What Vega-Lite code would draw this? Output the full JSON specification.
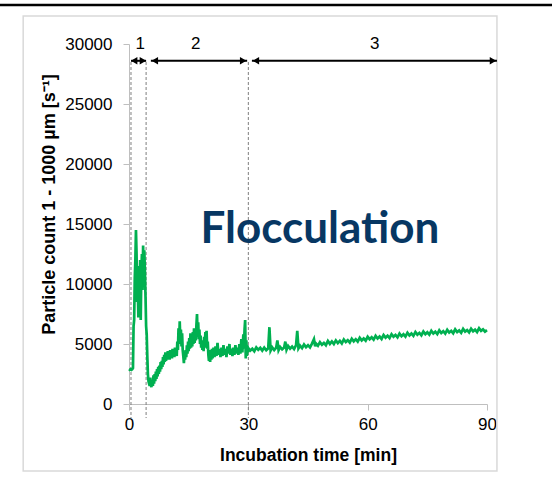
{
  "$schema": "https://vega.github.io/schema/vega-lite/v6.json",
  "width": 358,
  "height": 360,
  "autosize": {"type": "none"},
  "padding": {"left": 129, "top": 44, "right": 65, "bottom": 80},
  "background": "white",
  "config": {"view": {"stroke": null}, "font": "Liberation Sans"},
  "datasets": {
    "series": [
      {"t":0,"v":2900},{"t":0.2,"v":2850},{"t":0.4,"v":2900},{"t":0.6,"v":2850},{"t":0.8,"v":2900},{"t":1.0,"v":3000},
      {"t":1.15,"v":6500},{"t":1.3,"v":7000},{"t":1.45,"v":10500},{"t":1.6,"v":12000},{"t":1.75,"v":14500},{"t":1.9,"v":12500},
      {"t":2.05,"v":8500},{"t":2.2,"v":10000},{"t":2.35,"v":7200},{"t":2.5,"v":11500},{"t":2.65,"v":9000},{"t":2.8,"v":12000},
      {"t":2.95,"v":7000},{"t":3.1,"v":11000},{"t":3.25,"v":12500},{"t":3.4,"v":9500},{"t":3.55,"v":13200},{"t":3.7,"v":10000},
      {"t":3.85,"v":12800},{"t":4.0,"v":11000},{"t":4.15,"v":9000},{"t":4.3,"v":6500},{"t":4.45,"v":5800},{"t":4.6,"v":4000},
      {"t":4.75,"v":2500},{"t":4.9,"v":1900},{"t":5.05,"v":1700},{"t":5.2,"v":1500},{"t":5.35,"v":2200},{"t":5.5,"v":1600},
      {"t":5.65,"v":1400},{"t":5.8,"v":2000},{"t":6.0,"v":1500},{"t":6.15,"v":2400},{"t":6.3,"v":1700},{"t":6.45,"v":2500},
      {"t":6.6,"v":1900},{"t":6.75,"v":2700},{"t":6.9,"v":2100},{"t":7.05,"v":2900},{"t":7.2,"v":2300},{"t":7.35,"v":3100},
      {"t":7.5,"v":2500},{"t":7.65,"v":3200},{"t":7.8,"v":2700},{"t":7.95,"v":3500},{"t":8.1,"v":2900},{"t":8.25,"v":3600},
      {"t":8.4,"v":3100},{"t":8.55,"v":3900},{"t":8.7,"v":3300},{"t":8.85,"v":4100},{"t":9.0,"v":3500},{"t":9.15,"v":4300},
      {"t":9.3,"v":3600},{"t":9.45,"v":4100},{"t":9.6,"v":3700},{"t":9.75,"v":4400},{"t":9.9,"v":3800},{"t":10.05,"v":4300},
      {"t":10.2,"v":3700},{"t":10.35,"v":4500},{"t":10.5,"v":3900},{"t":10.65,"v":4300},{"t":10.8,"v":3800},{"t":10.95,"v":4600},
      {"t":11.1,"v":4000},{"t":11.25,"v":4400},{"t":11.4,"v":3900},{"t":11.55,"v":4700},{"t":11.7,"v":4100},{"t":11.85,"v":4500},
      {"t":12.0,"v":4000},{"t":12.15,"v":5200},{"t":12.3,"v":4500},{"t":12.45,"v":6300},{"t":12.6,"v":5000},{"t":12.75,"v":6900},
      {"t":12.9,"v":5300},{"t":13.05,"v":6200},{"t":13.2,"v":4800},{"t":13.35,"v":5900},{"t":13.5,"v":4500},{"t":13.65,"v":4000},
      {"t":13.8,"v":3400},{"t":13.95,"v":4200},{"t":14.1,"v":3700},{"t":14.25,"v":4500},{"t":14.4,"v":3900},{"t":14.55,"v":4900},
      {"t":14.7,"v":4200},{"t":14.85,"v":5200},{"t":15.0,"v":4400},{"t":15.15,"v":5500},{"t":15.3,"v":4600},{"t":15.45,"v":5900},
      {"t":15.6,"v":4700},{"t":15.75,"v":5400},{"t":15.9,"v":4800},{"t":16.05,"v":6000},{"t":16.2,"v":5000},{"t":16.35,"v":6300},
      {"t":16.5,"v":5100},{"t":16.65,"v":5800},{"t":16.8,"v":5300},{"t":16.95,"v":6600},{"t":17.1,"v":7500},{"t":17.25,"v":5600},
      {"t":17.4,"v":6800},{"t":17.55,"v":5400},{"t":17.7,"v":6200},{"t":17.85,"v":5000},{"t":18.0,"v":5700},{"t":18.15,"v":4700},
      {"t":18.3,"v":5300},{"t":18.45,"v":4500},{"t":18.6,"v":5000},{"t":18.75,"v":4400},{"t":18.9,"v":5600},{"t":19.05,"v":4700},
      {"t":19.2,"v":6000},{"t":19.35,"v":4900},{"t":19.5,"v":6100},{"t":19.65,"v":4600},{"t":19.8,"v":5200},{"t":19.95,"v":4100},
      {"t":20.1,"v":3600},{"t":20.25,"v":4400},{"t":20.4,"v":3500},{"t":20.55,"v":4500},{"t":20.7,"v":3700},{"t":20.85,"v":4600},
      {"t":21.0,"v":3800},{"t":21.25,"v":4700},{"t":21.5,"v":3900},{"t":21.75,"v":4800},{"t":22.0,"v":4000},{"t":22.25,"v":5100},
      {"t":22.5,"v":4100},{"t":22.75,"v":4600},{"t":23.0,"v":3900},{"t":23.25,"v":4700},{"t":23.5,"v":4000},{"t":23.75,"v":4900},
      {"t":24.0,"v":4100},{"t":24.25,"v":4600},{"t":24.5,"v":3900},{"t":24.75,"v":4800},{"t":25.0,"v":4200},{"t":25.25,"v":5000},
      {"t":25.5,"v":4100},{"t":25.75,"v":4600},{"t":26.0,"v":4000},{"t":26.25,"v":4700},{"t":26.5,"v":4100},{"t":26.75,"v":4900},
      {"t":27.0,"v":4200},{"t":27.25,"v":4700},{"t":27.5,"v":4100},{"t":27.75,"v":5000},{"t":28.0,"v":4200},{"t":28.25,"v":5400},
      {"t":28.5,"v":4300},{"t":28.75,"v":5800},{"t":28.9,"v":4600},{"t":29.05,"v":6200},{"t":29.2,"v":7000},{"t":29.35,"v":3800},
      {"t":29.5,"v":5300},{"t":29.65,"v":4000},{"t":29.8,"v":4900},{"t":29.9,"v":4300},
      {"t":30.0,"v":4650},{"t":30.5,"v":4450},{"t":31.0,"v":4600},{"t":31.5,"v":4400},{"t":32.0,"v":4720},{"t":32.5,"v":4520},
      {"t":33.0,"v":4680},{"t":33.5,"v":4450},{"t":34.0,"v":4700},{"t":34.5,"v":4480},{"t":35.0,"v":4640},{"t":35.3,"v":6400},
      {"t":35.6,"v":4450},{"t":36.0,"v":4720},{"t":36.5,"v":4500},{"t":37.0,"v":4700},{"t":37.3,"v":5300},{"t":37.6,"v":4480},
      {"t":38.0,"v":4760},{"t":38.5,"v":4560},{"t":39.0,"v":4700},{"t":39.3,"v":5200},{"t":39.6,"v":4520},{"t":40.0,"v":4830},
      {"t":40.5,"v":4610},{"t":41.0,"v":4780},{"t":41.5,"v":4580},{"t":42.0,"v":4900},{"t":42.3,"v":6100},{"t":42.6,"v":4640},
      {"t":43.0,"v":4860},{"t":43.5,"v":4660},{"t":44.0,"v":4960},{"t":44.5,"v":4740},{"t":45.0,"v":4900},{"t":45.5,"v":4720},
      {"t":46.0,"v":5030},{"t":46.5,"v":5400},{"t":46.8,"v":4800},{"t":47.0,"v":5040},{"t":47.5,"v":4860},{"t":48.0,"v":5150},
      {"t":48.5,"v":4930},{"t":49.0,"v":5090},{"t":49.5,"v":4900},{"t":50.0,"v":5250},{"t":50.5,"v":5010},{"t":51.0,"v":5220},
      {"t":51.5,"v":5000},{"t":52.0,"v":5300},{"t":52.5,"v":5080},{"t":53.0,"v":5260},{"t":53.5,"v":5050},{"t":54.0,"v":5380},
      {"t":54.5,"v":5160},{"t":55.0,"v":5320},{"t":55.5,"v":5120},{"t":56.0,"v":5440},{"t":56.5,"v":5220},{"t":57.0,"v":5400},
      {"t":57.5,"v":5200},{"t":58.0,"v":5520},{"t":58.5,"v":5300},{"t":59.0,"v":5460},{"t":59.5,"v":5280},{"t":60.0,"v":5600},
      {"t":60.5,"v":5400},{"t":61.0,"v":5560},{"t":61.5,"v":5360},{"t":62.0,"v":5680},{"t":62.5,"v":5460},{"t":63.0,"v":5620},
      {"t":63.5,"v":5420},{"t":64.0,"v":5750},{"t":64.5,"v":5530},{"t":65.0,"v":5690},{"t":65.5,"v":5500},{"t":66.0,"v":5820},
      {"t":66.5,"v":5600},{"t":67.0,"v":5760},{"t":67.5,"v":5560},{"t":68.0,"v":5870},{"t":68.5,"v":5650},{"t":69.0,"v":5810},
      {"t":69.5,"v":5620},{"t":70.0,"v":5940},{"t":70.5,"v":5720},{"t":71.0,"v":5880},{"t":71.5,"v":5680},{"t":72.0,"v":6000},
      {"t":72.5,"v":5780},{"t":73.0,"v":5930},{"t":73.5,"v":5730},{"t":74.0,"v":6040},{"t":74.5,"v":5820},{"t":75.0,"v":5980},
      {"t":75.5,"v":5790},{"t":76.0,"v":6100},{"t":76.5,"v":5880},{"t":77.0,"v":6030},{"t":77.5,"v":5830},{"t":78.0,"v":6140},
      {"t":78.5,"v":5920},{"t":79.0,"v":6070},{"t":79.5,"v":5870},{"t":80.0,"v":6180},{"t":80.5,"v":5960},{"t":81.0,"v":6100},
      {"t":81.5,"v":5900},{"t":82.0,"v":6220},{"t":82.5,"v":6000},{"t":83.0,"v":6130},{"t":83.5,"v":5930},{"t":84.0,"v":6260},
      {"t":84.5,"v":6040},{"t":85.0,"v":6160},{"t":85.5,"v":5970},{"t":86.0,"v":6280},{"t":86.5,"v":6060},{"t":87.0,"v":6200},
      {"t":87.5,"v":6000},{"t":88.0,"v":6310},{"t":88.5,"v":6090},{"t":89.0,"v":6220},{"t":89.5,"v":6030},{"t":90.0,"v":6150}
    ],
    "phases": [
      {"x": 0.5, "top": 28500, "bottom": -1170},
      {"x": 4.3, "top": 28500, "bottom": -1170},
      {"x": 30, "top": 28500, "bottom": -1170}
    ],
    "arrows": [
      {"from": 0.5, "to": 4.3, "y": 28600},
      {"from": 5.5, "to": 29.7, "y": 28600},
      {"from": 30.9, "to": 92.5, "y": 28600}
    ],
    "heads": [
      {"x": 1.3, "y": 28600, "side": "left"},
      {"x": 3.5, "y": 28600, "side": "right"},
      {"x": 6.5, "y": 28600, "side": "left"},
      {"x": 28.7, "y": 28600, "side": "right"},
      {"x": 31.9, "y": 28600, "side": "left"},
      {"x": 91.5, "y": 28600, "side": "right"}
    ],
    "labels": [
      {"x": 2.8, "y": 30000, "text": "1"},
      {"x": 16.8, "y": 30000, "text": "2"},
      {"x": 61.8, "y": 30000, "text": "3"}
    ],
    "frame": [{"x1": -26.6, "x2": 92.5, "y1": -5583, "y2": 32333}],
    "topbar": [{"x1": -33, "x2": 107, "y": 33250}],
    "note": [{"x": 48, "y": 13450, "text": "Flocculation"}]
  },
  "layer": [
    {
      "data": {"name": "frame"},
      "mark": {"type": "rect", "fill": null, "stroke": "#d9d9d9", "strokeWidth": 1.5},
      "encoding": {
        "x": {"field": "x1", "type": "quantitative", "scale": {"domain": [0, 90], "nice": false}, "axis": {"title": "Incubation time [min]", "values": [0, 30, 60, 90], "format": "d", "labelFlush": false, "domainColor": "#bfbfbf", "tickColor": "#bfbfbf", "tickSize": 6, "labelFontSize": 17, "labelColor": "#000", "labelPadding": 6, "titleFontSize": 17.5, "titleFontWeight": "bold", "titleColor": "#000", "titlePadding": 14, "grid": false}},
        "x2": {"field": "x2"},
        "y": {"field": "y1", "type": "quantitative", "scale": {"domain": [0, 30000], "nice": false}, "axis": {"title": "Particle count 1 - 1000 µm [s⁻¹]", "values": [0, 5000, 10000, 15000, 20000, 25000, 30000], "format": "d", "labelFlush": false, "domainColor": "#bfbfbf", "tickColor": "#bfbfbf", "tickSize": 6, "labelFontSize": 17, "labelColor": "#000", "labelPadding": 11, "titleFontSize": 18, "titleFontWeight": "bold", "titleColor": "#000", "titlePadding": 6, "titleY": 160, "grid": false}},
        "y2": {"field": "y2"}
      }
    },
    {
      "data": {"name": "topbar"},
      "mark": {"type": "rule", "color": "#000", "strokeWidth": 2.5},
      "encoding": {"x": {"field": "x1", "type": "quantitative"}, "x2": {"field": "x2"}, "y": {"field": "y", "type": "quantitative"}}
    },
    {
      "data": {"name": "phases"},
      "mark": {"type": "rule", "color": "#7f7f7f", "strokeWidth": 1, "strokeDash": [3, 2]},
      "encoding": {"x": {"field": "x", "type": "quantitative"}, "y": {"field": "top", "type": "quantitative"}, "y2": {"field": "bottom"}}
    },
    {
      "data": {"name": "series"},
      "mark": {"type": "line", "color": "#00B050", "strokeWidth": 2.7},
      "encoding": {"x": {"field": "t", "type": "quantitative"}, "y": {"field": "v", "type": "quantitative"}}
    },
    {
      "data": {"name": "arrows"},
      "mark": {"type": "rule", "color": "#000", "strokeWidth": 2},
      "encoding": {"x": {"field": "from", "type": "quantitative"}, "x2": {"field": "to"}, "y": {"field": "y", "type": "quantitative"}}
    },
    {
      "data": {"name": "heads"},
      "mark": {"type": "point", "filled": true, "color": "#000", "size": 55, "opacity": 1},
      "encoding": {
        "x": {"field": "x", "type": "quantitative"},
        "y": {"field": "y", "type": "quantitative"},
        "shape": {"field": "side", "type": "nominal", "scale": {"domain": ["left", "right"], "range": ["triangle-left", "triangle-right"]}, "legend": null}
      }
    },
    {
      "data": {"name": "labels"},
      "mark": {"type": "text", "fontSize": 17, "color": "#000", "baseline": "middle", "align": "center"},
      "encoding": {"x": {"field": "x", "type": "quantitative"}, "y": {"field": "y", "type": "quantitative"}, "text": {"field": "text"}}
    },
    {
      "data": {"name": "note"},
      "mark": {"type": "text", "font": "Lato", "fontSize": 44, "fontWeight": "bold", "color": "#073763", "baseline": "alphabetic", "align": "center"},
      "encoding": {"x": {"field": "x", "type": "quantitative"}, "y": {"field": "y", "type": "quantitative"}, "text": {"field": "text"}}
    }
  ]
}
